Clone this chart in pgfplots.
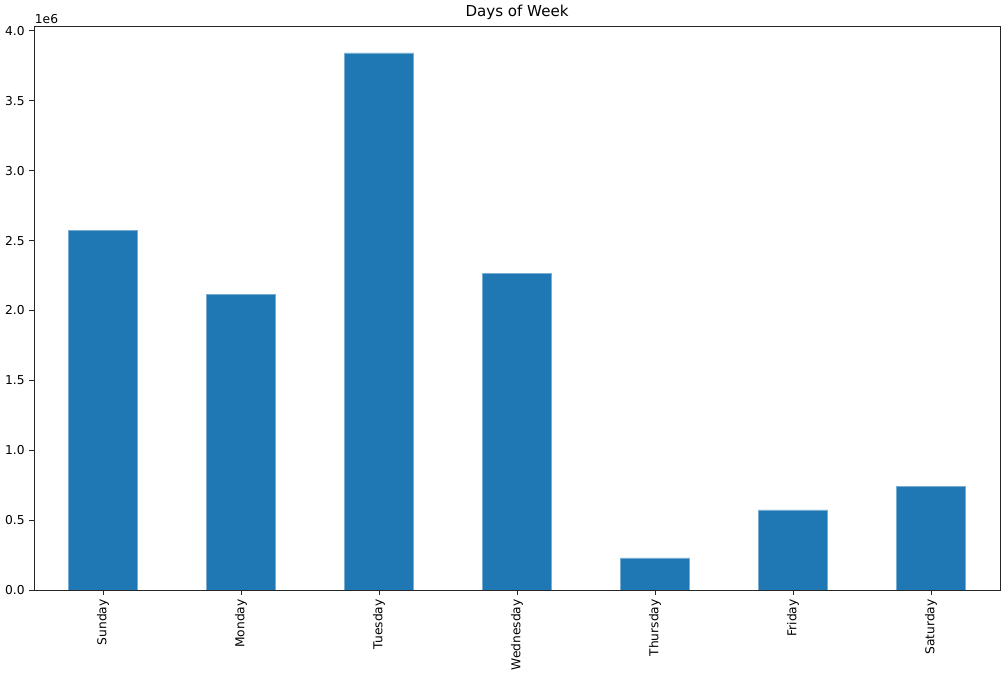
\documentclass[border=0pt]{standalone}
\usepackage{fontspec}
\setmainfont{DejaVu Sans}
\usepackage{pgfplots}
\pgfplotsset{compat=1.18}
\definecolor{tabblue}{HTML}{1F77B4}

\begin{document}
\begin{tikzpicture}
    % canvas: 1 px of the reference = 0.75pt
    \path[use as bounding box] (-25.5pt,-69pt) rectangle (729pt,442.5pt);
    \begin{axis}[
        at={(0pt,0pt)}, anchor=south west,
        scale only axis,
        width=724.5pt, height=423pt,
        xmin=-0.5, xmax=6.5,
        ymin=0, ymax=4035000,
        xtick=data,
        xticklabels={Sunday, Monday, Tuesday, Wednesday, Thursday, Friday, Saturday},
        xticklabel style={rotate=90, anchor=east, font=\fontsize{9.2}{10}\selectfont},
        ytick={0,500000,1000000,1500000,2000000,2500000,3000000,3500000,4000000},
        scaled y ticks=base 10:-6,
        ytick scale label code/.code={1e6},
        every y tick scale label/.style={at={(rel axis cs:0,1)}, anchor=south west, inner sep=1.5pt, xshift=-1pt, font=\fontsize{9.2}{10}\selectfont},
        yticklabel style={font=\fontsize{9.2}{10}\selectfont,
            /pgf/number format/fixed, /pgf/number format/fixed zerofill,
            /pgf/number format/precision=1},
        /pgf/number format/assume math mode=true,
        tick align=outside,
        major tick length=3.5pt,
        xtick pos=bottom, ytick pos=left,
        axis line style={line width=0.6pt, black!85},
        every tick/.style={line width=0.6pt, black!85},
        title={Days of Week},
        title style={font=\fontsize{11.3}{13}\selectfont, yshift=-5pt},
        ybar, bar width=0.5, bar shift=0pt,
        axis on top,
    ]
    \addplot[fill=tabblue, draw=tabblue!60, line width=0.3pt] coordinates {
        (0, 2571000) (1, 2114000) (2, 3843000) (3, 2264000)
        (4, 229000) (5, 573000) (6, 740000)};
    \end{axis}
\end{tikzpicture}
\end{document}
